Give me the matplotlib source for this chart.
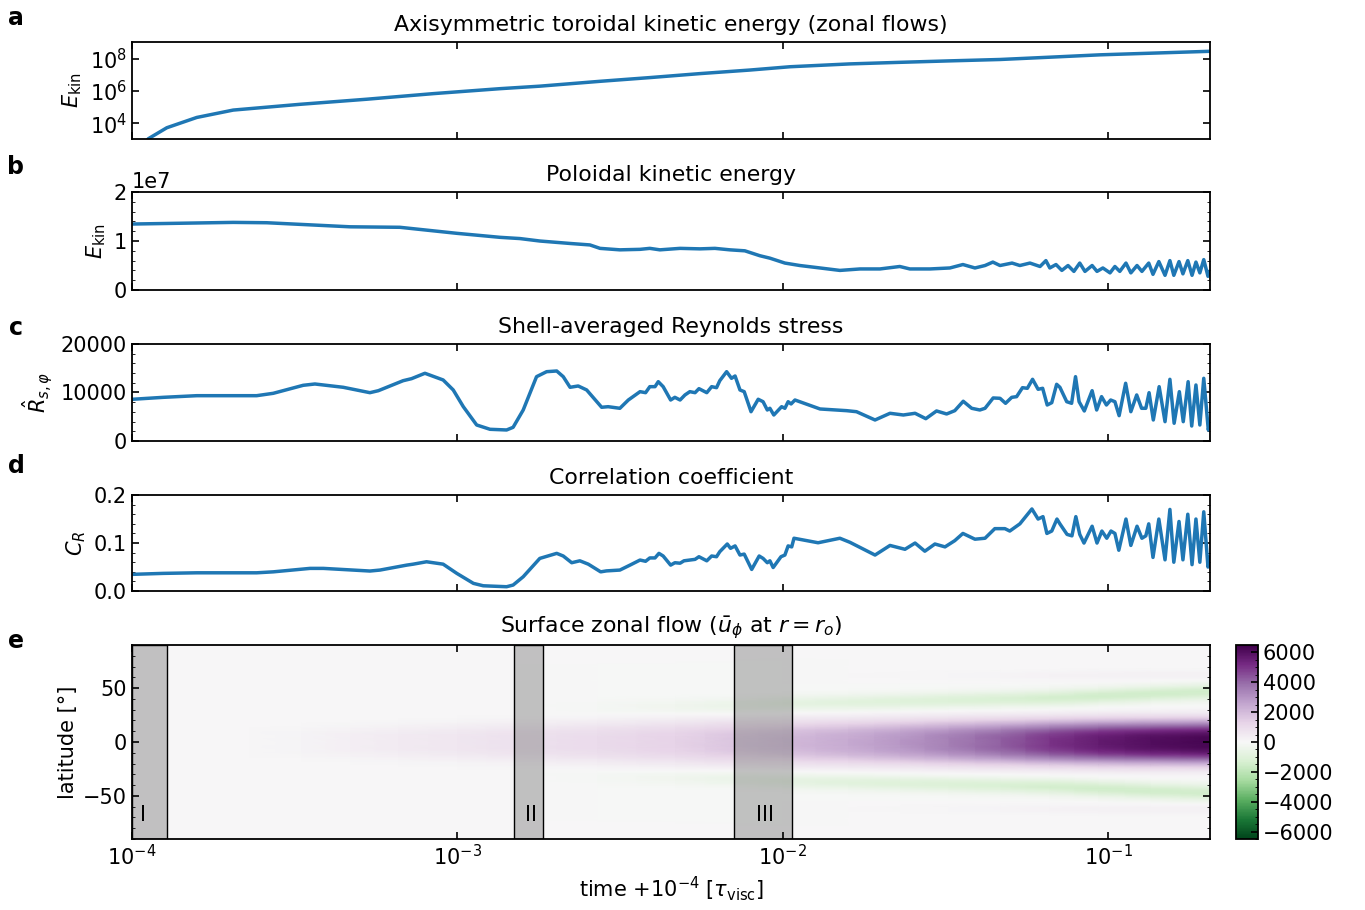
import numpy as np
import matplotlib.pyplot as plt
from matplotlib.ticker import AutoMinorLocator, NullLocator, MultipleLocator, FixedLocator

# ---- data (time given as log10 of time) ----
# a: axisymmetric toroidal kinetic energy
logt_a = [-3.975, -3.950, -3.893, -3.801, -3.689, -3.484, -3.279, -3.074, -2.869, -2.747,
          -2.562, -2.409, -2.255, -2.101, -1.978, -1.794, -1.641, -1.487, -1.333, -1.180,
          -1.026, -0.873, -0.688]
ekin_tor = [2e2, 1.1e3, 5.3e3, 2.3e4, 6.6e4, 1.5e5, 3.1e5, 6.9e5, 1.4e6, 2.0e6,
            4.0e6, 6.8e6, 1.2e7, 2.0e7, 3.2e7, 4.8e7, 6.0e7, 7.4e7, 9.0e7, 1.25e8,
            1.75e8, 2.2e8, 2.9e8]

# b: poloidal kinetic energy (units of 1e7)
logt_b = [-3.996, -3.689, -3.586, -3.330, -3.177, -3.002, -2.869, -2.808, -2.747, -2.654,
          -2.593, -2.562, -2.501, -2.439, -2.409, -2.378, -2.316, -2.255, -2.209, -2.163,
          -2.117, -2.071, -2.040, -1.994, -1.948, -1.886, -1.825, -1.763, -1.702, -1.641,
          -1.610, -1.548, -1.487, -1.447, -1.410, -1.379, -1.355, -1.333, -1.296, -1.272,
          -1.241, -1.210, -1.192, -1.180, -1.161, -1.143, -1.124, -1.106, -1.088, -1.072,
          -1.050, -1.035, -1.017, -0.995, -0.980, -0.965, -0.946, -0.931, -0.912, -0.897,
          -0.876, -0.863, -0.845, -0.826, -0.811, -0.799, -0.783, -0.771, -0.756, -0.743,
          -0.731, -0.719, -0.707, -0.694, -0.688]
ekin_pol = [1.347, 1.38, 1.373, 1.29, 1.28, 1.157, 1.075, 1.05, 1.0, 0.95,
            0.92, 0.85, 0.82, 0.83, 0.85, 0.82, 0.85, 0.84, 0.85, 0.82,
            0.80, 0.70, 0.65, 0.55, 0.50, 0.45, 0.40, 0.43, 0.43, 0.48,
            0.43, 0.43, 0.45, 0.52, 0.45, 0.50, 0.57, 0.50, 0.55, 0.50,
            0.55, 0.48, 0.60, 0.45, 0.52, 0.40, 0.50, 0.38, 0.55, 0.38,
            0.50, 0.38, 0.45, 0.35, 0.48, 0.38, 0.55, 0.35, 0.50, 0.38,
            0.55, 0.32, 0.58, 0.30, 0.60, 0.30, 0.58, 0.33, 0.60, 0.30,
            0.57, 0.35, 0.62, 0.28, 0.38]

# c: shell-averaged Reynolds stress
logt_c = [-3.998, -3.904, -3.801, -3.617, -3.566, -3.474, -3.438, -3.351, -3.269, -3.243,
          -3.167, -3.141, -3.100, -3.044, -3.013, -2.982, -2.941, -2.900, -2.849, -2.829,
          -2.798, -2.757, -2.726, -2.695, -2.675, -2.654, -2.629, -2.603, -2.557, -2.537,
          -2.501, -2.475, -2.439, -2.422, -2.409, -2.393, -2.383, -2.368, -2.345, -2.332,
          -2.316, -2.301, -2.286, -2.270, -2.258, -2.234, -2.219, -2.204, -2.194, -2.173,
          -2.158, -2.147, -2.132, -2.119, -2.098, -2.076, -2.061, -2.048, -2.040, -2.028,
          -2.004, -1.994, -1.984, -1.975, -1.963, -1.886, -1.804, -1.774, -1.717, -1.671,
          -1.630, -1.594, -1.561, -1.528, -1.497, -1.472, -1.446, -1.420, -1.395, -1.379,
          -1.354, -1.333, -1.316, -1.297, -1.282, -1.264, -1.249, -1.233, -1.216, -1.202,
          -1.188, -1.174, -1.159, -1.149, -1.128, -1.113, -1.101, -1.090, -1.074, -1.050,
          -1.036, -1.021, -1.006, -0.993, -0.980, -0.967, -0.947, -0.931, -0.913, -0.898,
          -0.885, -0.875, -0.862, -0.844, -0.826, -0.811, -0.798, -0.782, -0.770, -0.755,
          -0.744, -0.731, -0.719, -0.707, -0.693, -0.688]
reynolds = [8600, 9000, 9340, 9340, 9830, 11480, 11750, 11070, 9960, 10370,
            12430, 12850, 13960, 12580, 10520, 7070, 3300, 2410, 2270, 2820,
            6390, 13260, 14290, 14430, 13260, 11070, 11340, 10520, 6950, 7070,
            6740, 8450, 10170, 9960, 11200, 11200, 12230, 11200, 8450, 9000,
            8450, 9490, 10170, 9960, 10790, 9960, 11200, 10990, 12430, 14290,
            12920, 13400, 10520, 10170, 6040, 8600, 8100, 6390, 6740, 5360,
            7070, 6740, 8100, 7630, 8450, 6600, 6250, 6040, 4330, 5710,
            5360, 5710, 4600, 6190, 5570, 6250, 8190, 6740, 6390, 6740,
            8870, 8800, 7770, 9000, 9140, 10990, 10860, 12720, 10660, 10860,
            7420, 7900, 11690, 11070, 8100, 7770, 13260, 8100, 6190, 10370,
            6390, 9140, 7420, 8450, 8100, 5220, 11900, 6040, 9490, 6740,
            6740, 9960, 4330, 11200, 3980, 12720, 3650, 10170, 3980, 12230,
            3090, 11550, 3300, 12920, 2270, 3980]

# d: correlation coefficient
logt_d = [-3.998, -3.904, -3.801, -3.617, -3.566, -3.453, -3.412, -3.269, -3.238, -3.156,
          -3.136, -3.095, -3.044, -3.002, -2.951, -2.921, -2.900, -2.849, -2.829, -2.798,
          -2.747, -2.695, -2.675, -2.649, -2.624, -2.598, -2.560, -2.542, -2.501, -2.470,
          -2.439, -2.422, -2.409, -2.393, -2.381, -2.368, -2.345, -2.332, -2.316, -2.304,
          -2.286, -2.270, -2.258, -2.234, -2.219, -2.204, -2.194, -2.171, -2.161, -2.147,
          -2.132, -2.119, -2.096, -2.073, -2.061, -2.048, -2.040, -2.030, -2.006, -1.994,
          -1.984, -1.973, -1.966, -1.892, -1.825, -1.794, -1.717, -1.671, -1.625, -1.594,
          -1.564, -1.533, -1.502, -1.472, -1.447, -1.410, -1.379, -1.349, -1.318, -1.303,
          -1.272, -1.235, -1.216, -1.201, -1.189, -1.174, -1.158, -1.149, -1.127, -1.112,
          -1.100, -1.088, -1.075, -1.050, -1.035, -1.020, -1.005, -0.992, -0.980, -0.968,
          -0.946, -0.931, -0.912, -0.897, -0.885, -0.876, -0.863, -0.845, -0.826, -0.811,
          -0.799, -0.783, -0.771, -0.756, -0.743, -0.731, -0.719, -0.707, -0.694, -0.688]
corr = [0.0348, 0.0368, 0.038, 0.038, 0.040, 0.0472, 0.0472, 0.0417, 0.0437, 0.054,
        0.056, 0.061, 0.056, 0.0368, 0.016, 0.011, 0.0104, 0.009, 0.0125, 0.0298,
        0.068, 0.0785, 0.073, 0.059, 0.063, 0.056, 0.040, 0.042, 0.0437, 0.054,
        0.0646, 0.062, 0.069, 0.069, 0.0785, 0.073, 0.054, 0.059, 0.058, 0.063,
        0.0646, 0.066, 0.0715, 0.063, 0.073, 0.0715, 0.082, 0.098, 0.089, 0.094,
        0.075, 0.077, 0.045, 0.073, 0.068, 0.059, 0.063, 0.049, 0.0715, 0.075,
        0.094, 0.092, 0.11, 0.1006, 0.11, 0.1015, 0.075, 0.095, 0.087, 0.10,
        0.083, 0.098, 0.092, 0.105, 0.12, 0.108, 0.11, 0.13, 0.13, 0.125,
        0.14, 0.171, 0.15, 0.155, 0.12, 0.125, 0.15, 0.14, 0.118, 0.115,
        0.155, 0.118, 0.10, 0.135, 0.10, 0.125, 0.11, 0.125, 0.12, 0.085,
        0.15, 0.095, 0.135, 0.11, 0.115, 0.14, 0.07, 0.15, 0.065, 0.17,
        0.06, 0.145, 0.065, 0.16, 0.055, 0.15, 0.06, 0.165, 0.05, 0.07]

# e: surface zonal flow, described by jet amplitudes/latitudes over time
logt_e = [-4.0, -3.64, -3.48, -3.33, -3.18, -3.0, -2.82, -2.57, -2.33, -2.15,
          -2.0, -1.8, -1.64, -1.49, -1.33, -1.18, -1.03, -0.87, -0.688]
eq_amp = [0, 50, 150, 300, 450, 600, 800, 1000, 1300, 1700,
          2000, 2400, 2900, 3500, 4200, 5000, 5600, 6000, 6300]
eq_width = [13, 13, 14, 15, 16, 17, 18, 19, 20, 20,
            20, 20, 20, 20, 20, 20, 20, 20, 20]
flank_amp = [0, 0, 0, 0, 0, 0, 0, -100, -300, -500,
             -700, -900, -1000, -1100, -1200, -1400, -1500, -1500, -1500]
flank_lat = [30, 30, 30, 30, 30, 30, 31, 32, 33, 34,
             36, 37, 38, 39, 40, 41, 43, 45, 47]
polar_amp = [0, 0, 0, 0, 0, 0, 0, 0, 0, 0,
             0, 30, 60, 100, 130, 180, 220, 250, 250]
polar_lat = 62

regions = [(1.0e-4, 1.28e-4), (1.49e-3, 1.83e-3), (7.07e-3, 1.07e-2)]
region_names = ['I', 'II', 'III']

# ---- style ----
plt.rcParams['font.size'] = 15
plt.rcParams['axes.titlesize'] = 15.8
plt.rcParams['axes.linewidth'] = 1.3
plt.rcParams['xtick.direction'] = 'in'
plt.rcParams['ytick.direction'] = 'in'
plt.rcParams['xtick.top'] = True
plt.rcParams['ytick.right'] = True
plt.rcParams['xtick.major.size'] = 5
plt.rcParams['ytick.major.size'] = 5
plt.rcParams['xtick.minor.size'] = 2.5
plt.rcParams['ytick.minor.size'] = 2.5
plt.rcParams['xtick.major.width'] = 1.2
plt.rcParams['ytick.major.width'] = 1.2

fig = plt.figure(figsize=(13.65, 9.1), dpi=100)
left, width = 0.0967, 0.7897
ax_a = fig.add_axes([left, 0.8473, width, 0.1066])
ax_b = fig.add_axes([left, 0.6813, width, 0.1077])
ax_c = fig.add_axes([left, 0.5154, width, 0.1066])
ax_d = fig.add_axes([left, 0.3505, width, 0.1055])
ax_e = fig.add_axes([left, 0.0780, width, 0.2132])
cax = fig.add_axes([0.9055, 0.0780, 0.0161, 0.2132])

xmin, xmax = 1e-4, 10 ** -0.688
lc = '#1f77b4'
lw = 2.5

ax_a.plot(10 ** np.array(logt_a), ekin_tor, color=lc, lw=lw)
ax_a.set_yscale('log')
ax_a.set_ylim(1.07e3, 1.1e9)
ax_a.yaxis.set_major_locator(FixedLocator([1e4, 1e6, 1e8]))
ax_a.yaxis.set_minor_locator(NullLocator())
ax_a.set_ylabel(r'$E_{\rm kin}$')
ax_a.set_title('Axisymmetric toroidal kinetic energy (zonal flows)', pad=8)

ax_b.plot(10 ** np.array(logt_b), np.array(ekin_pol) * 1e7, color=lc, lw=lw)
ax_b.set_ylim(0, 2e7)
ax_b.set_yticks([0, 1e7, 2e7])
ax_b.yaxis.set_minor_locator(AutoMinorLocator(5))
ax_b.set_ylabel(r'$E_{\rm kin}$')
ax_b.set_title('Poloidal kinetic energy', pad=8)

ax_c.plot(10 ** np.array(logt_c), reynolds, color=lc, lw=lw)
ax_c.set_ylim(0, 20000)
ax_c.set_yticks([0, 10000, 20000])
ax_c.yaxis.set_minor_locator(AutoMinorLocator(5))
ax_c.set_ylabel(r'$\hat{R}_{s,\varphi}$')
ax_c.set_title('Shell-averaged Reynolds stress', pad=8)

ax_d.plot(10 ** np.array(logt_d), corr, color=lc, lw=lw)
ax_d.set_ylim(0, 0.2)
ax_d.set_yticks([0.0, 0.1, 0.2])
ax_d.yaxis.set_minor_locator(AutoMinorLocator(5))
ax_d.set_ylabel(r'$C_R$')
ax_d.set_title('Correlation coefficient', pad=8)

# build the latitude-time field from the jet descriptions
lat = np.linspace(-90, 90, 181)
te = 10 ** np.array(logt_e)
field = np.zeros((lat.size, te.size))
for j in range(te.size):
    prof = eq_amp[j] * np.exp(-np.abs(lat / eq_width[j]) ** 3)
    prof += flank_amp[j] * (np.exp(-((lat - flank_lat[j]) / 7) ** 2) +
                            np.exp(-((lat + flank_lat[j]) / 7) ** 2))
    prof += polar_amp[j] * (np.exp(-((lat - polar_lat) / 5) ** 2) +
                            np.exp(-((lat + polar_lat) / 5) ** 2))
    field[:, j] = prof
T, L = np.meshgrid(te, lat)
mesh = ax_e.pcolormesh(T, L, field, cmap='PRGn_r', vmin=-6500, vmax=6500,
                       shading='gouraud', rasterized=True)
for (t0, t1), name in zip(regions, region_names):
    ax_e.axvspan(t0, t1, facecolor=(0.5, 0.5, 0.5, 0.45), edgecolor='k', lw=1)
ax_e.text(10 ** -3.965, -68, 'I', ha='center', va='center')
ax_e.text(10 ** -2.774, -68, 'II', ha='center', va='center')
ax_e.text(10 ** -2.055, -68, 'III', ha='center', va='center')
ax_e.set_ylim(-90, 90)
ax_e.set_yticks([-50, 0, 50])
ax_e.yaxis.set_minor_locator(MultipleLocator(10))
ax_e.set_ylabel('latitude [°]')
ax_e.set_xlabel(r'time $+10^{-4}$ [$\tau_{\rm visc}$]')
ax_e.set_title(r'Surface zonal flow ($\bar{u}_\phi$ at $r = r_o$)', pad=8)

cb = fig.colorbar(mesh, cax=cax, ticks=np.arange(-6000, 6001, 2000))
cax.yaxis.set_minor_locator(MultipleLocator(500))
cax.tick_params(which='both', direction='in')

for ax in [ax_a, ax_b, ax_c, ax_d, ax_e]:
    ax.set_xscale('log')
    ax.set_xlim(xmin, xmax)
    ax.xaxis.set_minor_locator(NullLocator())
    ax.tick_params(which='both', direction='in', top=True, right=True)
for ax in [ax_a, ax_b, ax_c, ax_d]:
    ax.tick_params(labelbottom=False)

for lab, y in zip('abcde', [0.980, 0.8165, 0.6396, 0.4879, 0.2956]):
    fig.text(0.0117, y, lab, weight='bold', size=17, ha='center', va='center')

fig.savefig('out.png', dpi=100)
